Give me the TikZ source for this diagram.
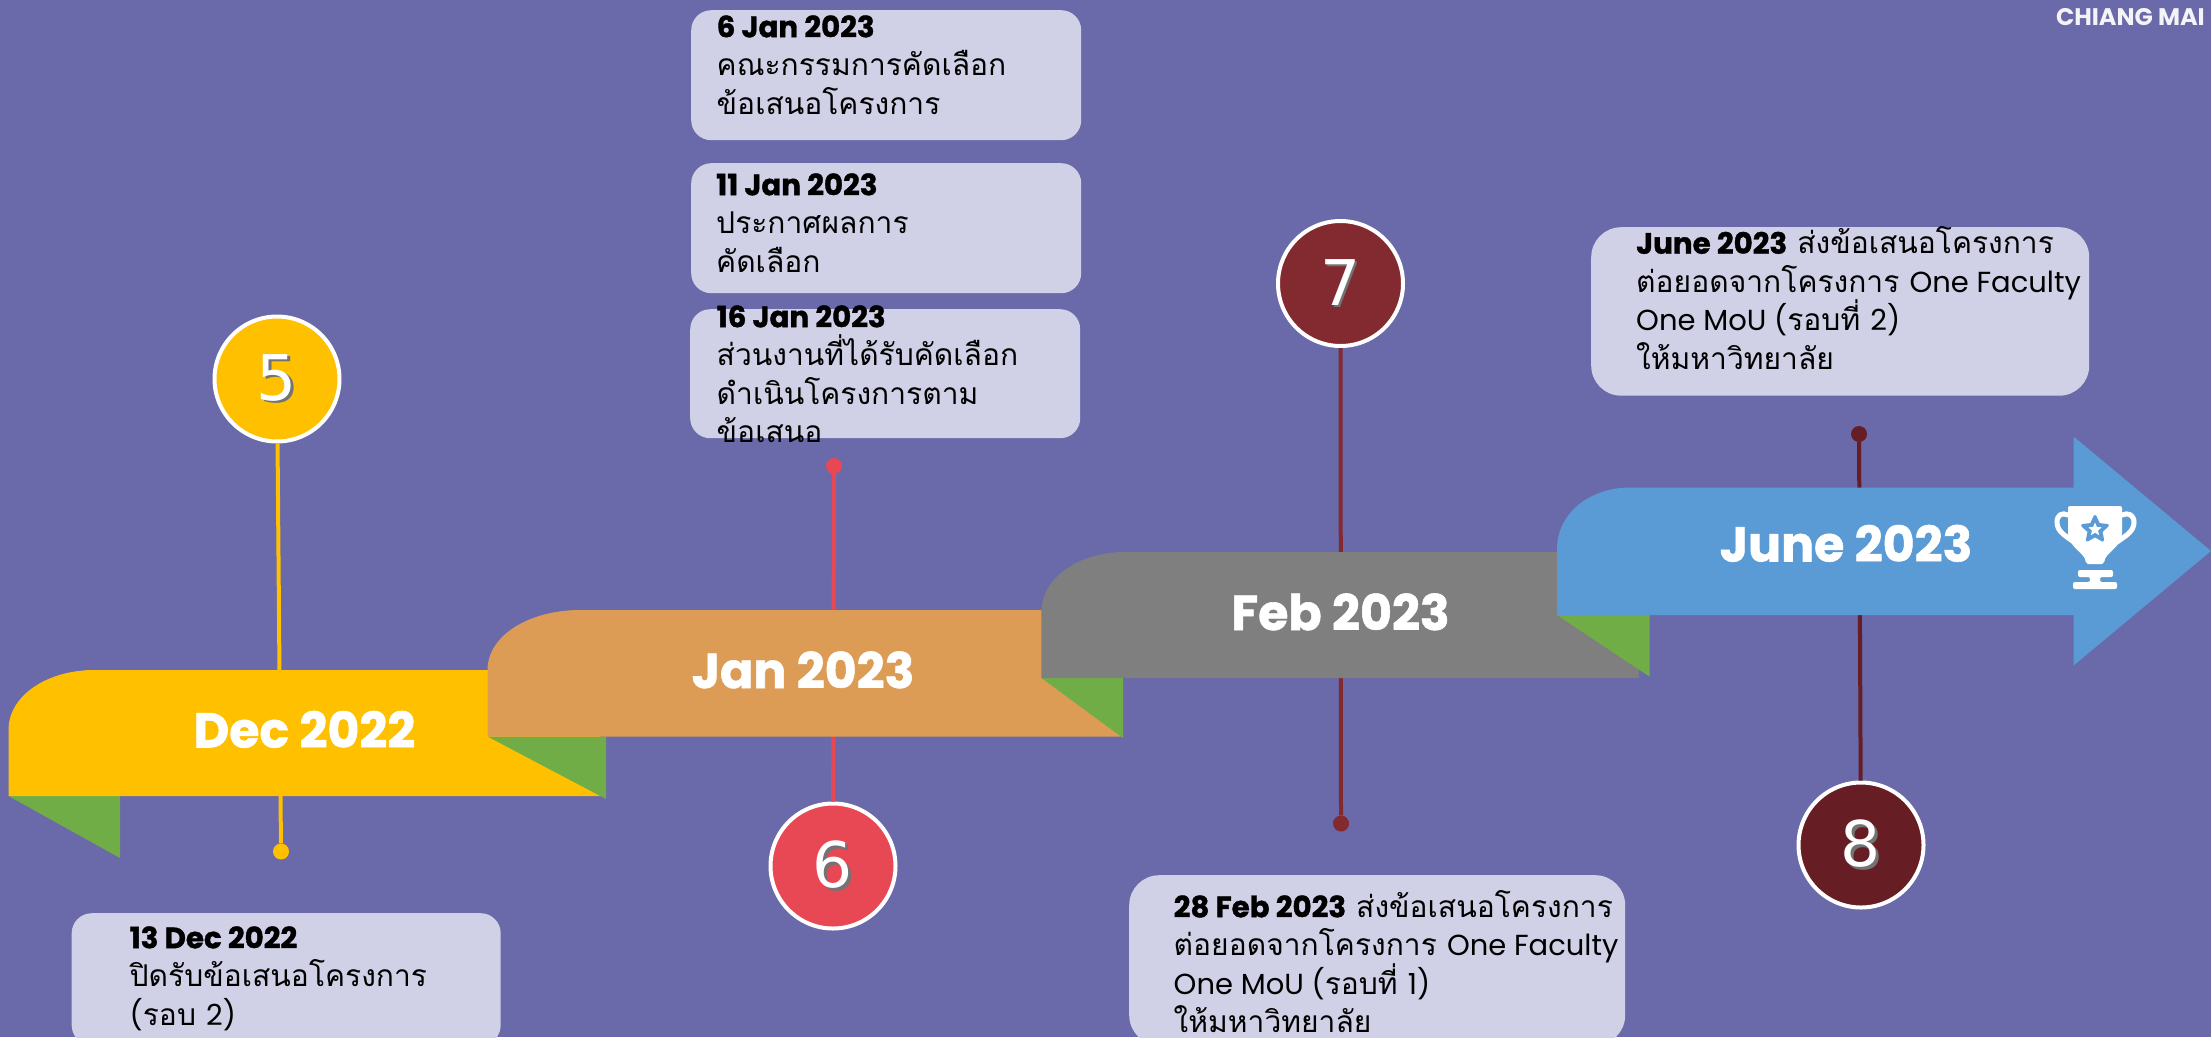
\documentclass[tikz,border=0pt]{standalone}
\usepackage{fontspec}
\usetikzlibrary{shapes.geometric}
\newfontfamily\thaifont[Script=Thai]{Loma}
\newfontfamily\headfont{Poppins}[BoldFeatures={FakeBold=1.2}]
\newfontfamily\latinfont{Poppins}
\newfontfamily\digitfont{DejaVu Sans}
\definecolor{bgc}{HTML}{6A69A9}
\definecolor{boxc}{HTML}{D0D1E6}
\definecolor{goldc}{HTML}{FFC000}
\definecolor{orangec}{HTML}{DD9C55}
\definecolor{grayc}{HTML}{7F7F7F}
\definecolor{bluec}{HTML}{5B9BD5}
\definecolor{greenc}{HTML}{70AD47}
\definecolor{redc}{HTML}{E84853}
\definecolor{maroonc}{HTML}{832A30}
\definecolor{darkc}{HTML}{661E24}
\newcommand{\datebf}[1]{{\headfont\bfseries\fontsize{29.3}{38.5}\selectfont #1}}
\newcommand{\lat}[1]{{\latinfont\fontsize{29}{38.5}\selectfont #1}}
\newcommand{\strutfirst}{\rule{0pt}{40pt}}
\newcommand{\bodyfont}{\thaifont\fontsize{30}{38.5}\selectfont\lineskiplimit=-16000pt\relax}
\newcommand{\shadowed}[1]{\rlap{\kern2.5pt\raisebox{-2.5pt}{\textcolor{black!55}{#1}}}#1}
\tikzset{
  x=1pt,y=-1pt,
  circ/.style={circle,draw=white,line width=4pt,minimum size=125pt,inner sep=0pt,text=white,font=\digitfont\fontsize{63}{70}\selectfont},
  dotn/.style={circle,minimum size=16pt,inner sep=0pt},
  conn/.style={line width=4pt},
  infobox/.style={anchor=north west,fill=boxc,rounded corners=20pt,inner sep=0pt},
  bodytext/.style={anchor=north west,inner sep=0pt,align=left,text=black,font=\bodyfont},
  ribbontext/.style={anchor=base,inner sep=0pt,text=white,font=\headfont\bfseries\fontsize{49}{52}\selectfont},
}
\begin{document}
\begin{tikzpicture}
\useasboundingbox (0,0) rectangle (2211,1037);
\clip (0,0) rectangle (2211,1037);
\fill[bgc] (0,0) rectangle (2211,1037);

\node[anchor=base east,inner sep=0pt,text=white!92!bgc,font=\latinfont\bfseries\fontsize{24}{26}\selectfont] (brand) at (2205,25) {CHIANG MAI};

% circles and dots
\node[circ,fill=goldc] (c5) at (277,379) {\shadowed{5}};
\node[dotn,fill=goldc] (d5) at (281,851.5) {};
\node[circ,fill=redc] (c6) at (833,866) {\shadowed{6}};
\node[dotn,fill=redc] (d6) at (834,466) {};
\node[circ,fill=maroonc] (c7) at (1340.5,283.5) {\shadowed{7}};
\node[dotn,fill=maroonc] (d7) at (1341,823.5) {};
\node[circ,fill=darkc] (c8) at (1861,845) {\shadowed{8}};
\node[dotn,fill=darkc] (d8) at (1859,434) {};

% connectors
\draw[conn,goldc] (c5) -- (d5);
\draw[conn,redc] (c6) -- (d6);
\draw[conn,maroonc] (c7) -- (d7);
\draw[conn,darkc] (c8) -- (d8);

% ribbons
\fill[greenc] (8.5,796) -- (120,796) -- (120,858) -- cycle;
\fill[goldc] (8.5,796) -- (8.5,730) .. controls (8.5,695) and (48,670) .. (94,670) -- (600,670) -- (600,796) -- cycle;
\node[ribbontext] (r1) at (304.5,747.5) {Dec 2022};

\fill[greenc] (487.5,736.5) -- (606,736.5) -- (606,799) -- cycle;
\fill[orangec] (487.5,736.5) -- (487.5,670) .. controls (487.5,635) and (530,610) .. (580,610) -- (1120.6,610) -- (1120.6,736.5) -- cycle;
\node[ribbontext] (r2) at (803,688) {Jan 2023};

\fill[greenc] (1041.4,678) -- (1123,678) -- (1123,738) -- cycle;
\fill[grayc] (1041.4,678) -- (1041.4,612) .. controls (1041.4,577) and (1080,552) .. (1124,552) -- (1639,552) -- (1639,678) -- cycle;
\node[ribbontext] (r3) at (1340.5,630) {Feb 2023};

\fill[greenc] (1557,615) -- (1649.6,615) -- (1649.6,676.7) -- cycle;
\fill[bluec] (1557,615) -- (1557,549) .. controls (1557,513) and (1590,487.5) .. (1630,487.5) -- (2073.6,487.5) -- (2073.6,436.6) -- (2211,551) -- (2073.6,665.5) -- (2073.6,615) -- cycle;
\node[ribbontext] (r4) at (1846,561.5) {June 2023};

% trophy
\fill[white,rounded corners=2pt] (2068,506) -- (2122,506) -- (2122,530) .. controls (2122,548) and (2105,552) .. (2104,564) -- (2086,564) .. controls (2085,552) and (2068,548) .. (2068,530) -- cycle;
\draw[white,line width=5pt,line cap=round,line join=round] (2068,515) .. controls (2062,512) and (2057,515) .. (2057,522) .. controls (2057,531) and (2064,535) .. (2074,542);
\draw[white,line width=5pt,line cap=round,line join=round] (2122,515) .. controls (2128,512) and (2134,515) .. (2134,522) .. controls (2134,531) and (2127,535) .. (2117,542);
\fill[white,rounded corners=2pt] (2078,570) -- (2113,570) -- (2113,577) -- (2100,577) -- (2100,582) -- (2117,582) -- (2117,589) -- (2073,589) -- (2073,582) -- (2090,582) -- (2090,577) -- (2078,577) -- cycle;
\node[star,star points=5,star point ratio=2.1,fill=bluec,draw=bluec,line width=3pt,line join=round,minimum size=26pt,inner sep=0pt] (st1) at (2095,529.5) {};
\node[star,star points=5,star point ratio=2.2,fill=white,minimum size=14pt,inner sep=0pt] (st2) at (2095,529.5) {};

% info boxes
\node[infobox,minimum width=429pt,minimum height=132pt] (b1) at (71.5,913) {};
\node[bodytext] (t1) at (129.5,908) {\strutfirst\datebf{13 Dec 2022}\\ปิดรับข้อเสนอโครงการ\\\lat{(}รอบ \lat{2)}};

\node[infobox,minimum width=390pt,minimum height=130pt] (b2) at (691,10) {};
\node[bodytext] (t2) at (716.5,-3) {\strutfirst\datebf{6 Jan 2023}\\คณะกรรมการคัดเลือก\\ข้อเสนอโครงการ};

\node[infobox,minimum width=390pt,minimum height=130pt] (b3) at (691,163) {};
\node[bodytext] (t3) at (716,155) {\strutfirst\datebf{11 Jan 2023}\\ประกาศผลการ\\คัดเลือก};

\node[infobox,minimum width=390pt,minimum height=129pt] (b4) at (690,309) {};
\node[bodytext] (t4) at (716.5,287) {\strutfirst\datebf{16 Jan 2023}\\ส่วนงานที่ได้รับคัดเลือก\\ดำเนินโครงการตาม\\ข้อเสนอ};

\node[infobox,rounded corners=30pt,minimum width=496pt,minimum height=170pt] (b5) at (1129,875) {};
\node[bodytext] (t5) at (1173.5,877) {\strutfirst\datebf{28 Feb 2023} ส่งข้อเสนอโครงการ\\ต่อยอดจากโครงการ \lat{One Faculty}\\\lat{One MoU (}รอบที่ \lat{1)}\\ให้มหาวิทยาลัย};

\node[infobox,rounded corners=30pt,minimum width=498pt,minimum height=168.5pt] (b6) at (1591,227) {};
\node[bodytext] (t6) at (1636,213.5) {\strutfirst\datebf{June 2023} ส่งข้อเสนอโครงการ\\ต่อยอดจากโครงการ \lat{One Faculty}\\\lat{One MoU (}รอบที่ \lat{2)}\\ให้มหาวิทยาลัย};
\end{tikzpicture}
\end{document}
